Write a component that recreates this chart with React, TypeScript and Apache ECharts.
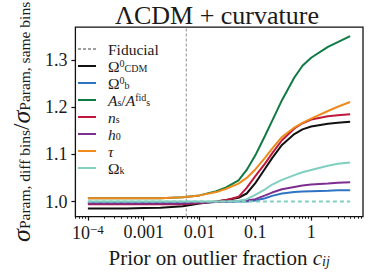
import React, { useEffect, useRef } from "react";
import * as echarts from "echarts";

// ---- data ----
const priorValues = [1e-4, 2e-4, 5e-4, 1e-3, 2e-3, 5e-3, 0.01, 0.02, 0.03, 0.05, 0.07, 0.1, 0.15, 0.2, 0.3, 0.5, 0.7, 1, 2, 3, 5];
const omegaCdm = [0.985, 0.985, 0.985, 0.986, 0.987, 0.99, 0.996, 1.0, 1.003, 1.008, 1.017, 1.039, 1.07, 1.092, 1.12, 1.143, 1.153, 1.159, 1.165, 1.167, 1.169];
const omegaB = [0.997, 0.997, 0.997, 0.997, 0.997, 0.997, 0.998, 0.999, 0.999, 1.0, 1.0, 1.002, 1.007, 1.012, 1.017, 1.02, 1.021, 1.022, 1.023, 1.024, 1.024];
const aS = [1.007, 1.007, 1.007, 1.007, 1.007, 1.009, 1.013, 1.022, 1.03, 1.045, 1.067, 1.098, 1.14, 1.171, 1.215, 1.263, 1.288, 1.305, 1.328, 1.338, 1.351];
const nS = [0.994, 0.994, 0.994, 0.994, 0.994, 0.994, 0.997, 1.0, 1.003, 1.01, 1.029, 1.054, 1.081, 1.102, 1.13, 1.155, 1.166, 1.174, 1.181, 1.183, 1.185];
const h0 = [0.996, 0.996, 0.996, 0.996, 0.996, 0.996, 0.998, 0.999, 1.0, 1.001, 1.002, 1.005, 1.013, 1.019, 1.026, 1.031, 1.034, 1.036, 1.038, 1.04, 1.041];
const tau = [1.007, 1.007, 1.007, 1.007, 1.007, 1.009, 1.013, 1.02, 1.027, 1.038, 1.05, 1.068, 1.093, 1.112, 1.137, 1.157, 1.167, 1.176, 1.192, 1.201, 1.211];
const omegaK = [1.0, 1.0, 1.0, 1.0, 1.0, 1.0, 1.0, 1.0, 1.0, 1.001, 1.005, 1.014, 1.026, 1.036, 1.046, 1.056, 1.062, 1.067, 1.076, 1.08, 1.083];
const omegaKFiducial = [1.0, 1.0, 1.0, 1.0, 1.0, 1.0, 1.0, 1.0, 1.0, 1.0, 1.0, 1.0, 1.0, 1.0, 1.0, 1.0, 1.0, 1.0, 1.0, 1.0, 1.0];
const fiducialPrior = 0.0058;

const xMin = 5.97e-5;
const xMax = 8.5;
const yMin = 0.968;
const yMax = 1.37;
const xTickValues = [1e-4, 1e-3, 1e-2, 1e-1, 1];
const xTickLabels = ["10{sup|−4}", "0.001", "0.01", "0.1", "1"];
const yTickValues = [1.0, 1.1, 1.2, 1.3];
const yTickLabels = ["1.0", "1.1", "1.2", "1.3"];

const FONT = "Liberation Serif, DejaVu Serif, serif";
const TXT = "#1a1a1a";

const seriesNames = ["Fiducial", "OmegaCDM", "Omegab", "As", "ns", "h0", "tau", "Omegak"];
const legendText: Record<string, string> = {
  Fiducial: "{t|Fiducial}",
  OmegaCDM: "{t|Ω}{sup|0}{sub|CDM}",
  Omegab: "{t|Ω}{sup|0}{sub|b}",
  As: "{it|A}{sub|s}{t|/}{it|A}{sup|fid}{sub|s}",
  ns: "{it|n}{sub|s}",
  h0: "{it|h}{sub|0}",
  tau: "{it|τ}",
  Omegak: "{t|Ω}{sub|k}",
};

function minorTicks(): number[] {
  const out: number[] = [];
  for (let e = -5; e <= 0; e++) {
    for (let k = 2; k <= 9; k++) {
      const v = k * Math.pow(10, e);
      if (v >= xMin && v <= xMax) out.push(v);
    }
  }
  return out;
}

function pairs(ys: number[]) {
  return priorValues.map((x, i) => [x, ys[i]]);
}

export default function App() {
  const ref = useRef<HTMLDivElement>(null);
  useEffect(() => {
    if (!ref.current) return;
    const chart = echarts.init(ref.current, undefined, { renderer: "svg" });
    const lineSeries = (name: string, ys: number[], color: string) => ({
      name,
      type: "line",
      xAxisIndex: 0,
      data: pairs(ys),
      symbol: "none",
      showSymbol: false,
      lineStyle: { color, width: 2 },
      itemStyle: { color },
    });
    chart.setOption({
      animation: false,
      textStyle: { fontFamily: FONT },
      title: {
        text: "ΛCDM + curvature",
        left: 212,
        top: -3,
        textAlign: "center",
        textStyle: { fontFamily: FONT, fontSize: 26, fontWeight: "normal", color: TXT },
      },
      grid: {
        left: 60,
        right: 11,
        top: 27,
        bottom: 54,
        show: true,
        borderColor: "#111",
        borderWidth: 1.3,
        backgroundColor: "transparent",
      },
      legend: {
        orient: "vertical",
        left: 72,
        top: 36,
        itemWidth: 18,
        itemHeight: 8,
        itemGap: 1,
        itemStyle: { opacity: 0 },
        data: seriesNames,
        formatter: (name: string) => legendText[name],
        textStyle: {
          fontFamily: FONT,
          fontSize: 15,
          color: TXT,
          padding: [0, 0, 0, 7],
          rich: {
            t: { fontFamily: FONT, fontSize: 15.5, color: TXT, lineHeight: 15 },
            it: { fontFamily: FONT, fontSize: 15.5, fontStyle: "italic", color: TXT, lineHeight: 15 },
            sup: { fontFamily: FONT, fontSize: 10, color: TXT, verticalAlign: "top", lineHeight: 10, padding: [0, 0, 2, 0] },
            sub: { fontFamily: FONT, fontSize: 10, color: TXT, verticalAlign: "bottom", lineHeight: 10, padding: [2, 0, 0, 0] },
          },
        },
      },
      xAxis: [
        {
          type: "log",
          logBase: 10,
          min: xMin,
          max: xMax,
          name: "Prior on outlier fraction {it|c}{sub|ij}",
          nameLocation: "middle",
          nameGap: 20,
          nameTextStyle: {
            fontFamily: FONT,
            fontSize: 21,
            color: TXT,
            verticalAlign: "top",
            rich: {
              it: { fontFamily: FONT, fontSize: 21, fontStyle: "italic", color: TXT },
              sub: { fontFamily: FONT, fontSize: 14, fontStyle: "italic", color: TXT, verticalAlign: "bottom", padding: [7, 0, 0, 0] },
            },
          },
          axisLine: { show: false },
          splitLine: { show: false },
          axisTick: { show: true, inside: false, length: 4, lineStyle: { color: "#111", width: 1.2 }, customValues: xTickValues },
          axisLabel: {
            show: true,
            margin: 6,
            customValues: xTickValues,
            formatter: (v: number) => {
              const i = xTickValues.findIndex((t) => Math.abs(Math.log10(t) - Math.log10(v)) < 1e-6);
              return i >= 0 ? xTickLabels[i] : "";
            },
            fontFamily: FONT,
            fontSize: 18,
            color: TXT,
            rich: {
              sup: { fontFamily: FONT, fontSize: 13, color: TXT, verticalAlign: "top", padding: [0, 0, 8, 0] },
            },
          },
        },
        {
          type: "log",
          logBase: 10,
          min: xMin,
          max: xMax,
          position: "bottom",
          axisLine: { show: false },
          splitLine: { show: false },
          axisLabel: { show: false },
          axisTick: { show: true, inside: false, length: 2.2, lineStyle: { color: "#111", width: 0.9 }, customValues: minorTicks() },
        },
      ],
      yAxis: {
        type: "value",
        min: yMin,
        max: yMax,
        name: "{s|σ}{sub|Param, diff bins}{t|/}{s|σ}{sub|Param, same bins}",
        nameLocation: "middle",
        nameRotate: 90,
        nameGap: 31,
        nameTextStyle: {
          fontFamily: FONT,
          color: TXT,
          rich: {
            s: { fontFamily: FONT, fontSize: 26, fontStyle: "italic", color: TXT, lineHeight: 22 },
            t: { fontFamily: FONT, fontSize: 23, color: TXT, lineHeight: 22 },
            sub: { fontFamily: FONT, fontSize: 15.5, color: TXT, verticalAlign: "bottom", lineHeight: 13, padding: [5, 0, 0, 0] },
          },
        },
        axisLine: { show: false },
        splitLine: { show: false },
        axisTick: { show: true, inside: false, length: 4, lineStyle: { color: "#111", width: 1.2 }, customValues: yTickValues },
        axisLabel: {
          margin: 8,
          customValues: yTickValues,
          formatter: (v: number) => {
            const i = yTickValues.findIndex((t) => Math.abs(t - v) < 1e-6);
            return i >= 0 ? yTickLabels[i] : "";
          },
          fontFamily: FONT,
          fontSize: 18,
          color: TXT,
        },
      },
      series: [
        {
          name: "Fiducial",
          type: "line",
          data: [[fiducialPrior, yMin], [fiducialPrior, yMax]],
          symbol: "none",
          lineStyle: { color: "#a0a0a0", width: 1.2, type: [3, 2] },
          itemStyle: { color: "#a0a0a0" },
        },
        lineSeries("OmegaCDM", omegaCdm, "#111111"),
        lineSeries("Omegab", omegaB, "#2f74c4"),
        lineSeries("As", aS, "#0f7a43"),
        lineSeries("ns", nS, "#c0183c"),
        lineSeries("h0", h0, "#7d2e91"),
        lineSeries("tau", tau, "#ef8a1c"),
        lineSeries("Omegak", omegaK, "#80cfc0"),
        {
          name: "OmegakFiducial",
          type: "line",
          data: pairs(omegaKFiducial),
          symbol: "none",
          lineStyle: { color: "#80cfc0", width: 1.8, type: [4, 3] },
          itemStyle: { color: "#80cfc0" },
        },
      ],
    });
    return () => chart.dispose();
  }, []);
  return <div ref={ref} style={{ position: "absolute", left: 0, top: 0, width: 374, height: 273 }} />;
}
